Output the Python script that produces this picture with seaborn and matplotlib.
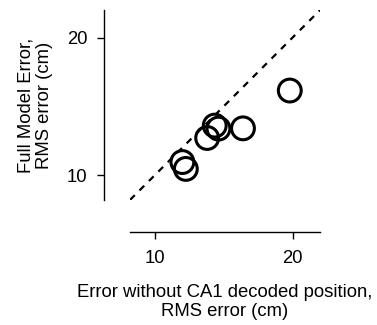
import matplotlib
matplotlib.use("Agg")
import matplotlib.pyplot as plt
import seaborn as sns
import pandas as pd

sns.set_style("ticks")
plt.rcParams['font.family'] = ['Liberation Sans', 'DejaVu Sans']

x_err = [19.8, 16.4, 14.62, 14.35, 13.8, 12.0, 12.25]
y_full = [16.15, 13.4, 13.38, 13.6, 12.7, 10.95, 10.45]
xticks = [10, 20]
yticks = [10, 20]

df = pd.DataFrame({"x": x_err, "y": y_full})

fig = plt.figure(figsize=(3.77, 3.25), dpi=100)
ax = fig.add_axes([0.345, 0.385, 0.504, 0.584])

lims = (8.2, 22.0)
ax.plot(lims, lims, ls=(0, (3, 3)), color="black", lw=1.6, zorder=1)
sns.scatterplot(data=df, x="x", y="y", ax=ax, s=270, facecolor="none",
                edgecolor="black", linewidth=2.2, zorder=2)

fs = 13.3
ax.set_xlim(lims)
ax.set_ylim(lims)
ax.set_xticks(xticks)
ax.set_yticks(yticks)
ax.tick_params(labelsize=fs, length=5, width=1, color="black", labelcolor="black")
ax.tick_params(axis="x", pad=8)
ax.tick_params(axis="y", pad=6.5)
sns.despine(ax=ax, offset={"left": 19, "bottom": 23}, trim=False)
for sp in ("left", "bottom"):
    ax.spines[sp].set_linewidth(1.0)
    ax.spines[sp].set_color("black")
ax.set_xlabel("Error without CA1 decoded position,\nRMS error (cm)", fontsize=fs,
              labelpad=12.5, color="black", linespacing=1.1)
ax.set_ylabel("Full Model Error,\nRMS error (cm)", fontsize=fs, labelpad=10,
              color="black", linespacing=1.1)

fig.savefig("out.png", dpi=100)
